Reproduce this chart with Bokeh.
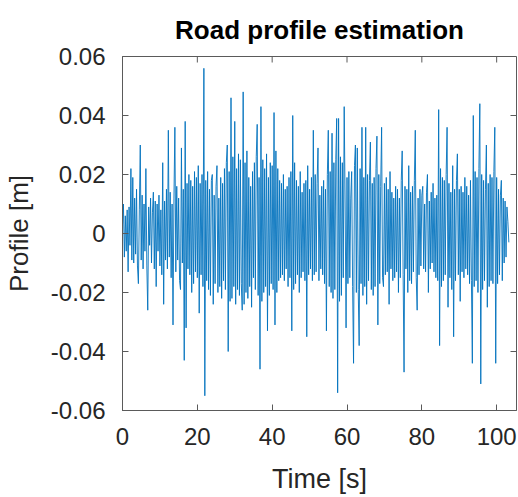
from bokeh.plotting import figure
from bokeh.models import FixedTicker, CustomJSTickFormatter, Range1d
from bokeh.embed import file_html
from bokeh.resources import INLINE
import math

# Road profile estimate [m], sampled every 0.25 s starting at t = 0 s
sample_step_s = 0.25
profile_m = [
    0.003, 0.010, -0.008, 0.006,   -0.006, 0.008, -0.013, 0.009,
    -0.004, 0.022, -0.009, 0.019,  -0.010, 0.012, -0.007, 0.015,
    -0.011, -0.017, 0.008, 0.030,  -0.009, 0.013, -0.012, 0.010,
    -0.006, 0.022, -0.011, -0.026, 0.009, -0.004, 0.012, -0.010,
    0.007, 0.014, -0.012, 0.011,   -0.018, 0.010, -0.006, 0.013,
    -0.011, 0.008, -0.014, 0.024,  -0.024, 0.011, -0.009, 0.015,
    -0.012, 0.035, -0.008, 0.014,  -0.015, 0.010, -0.031, 0.012,
    0.036, -0.013, 0.016, -0.009,  0.012, -0.016, -0.019, 0.029,
    -0.010, 0.015, -0.043, 0.038,  -0.032, 0.017, -0.012, 0.020,
    -0.014, 0.018, -0.020, 0.016,  -0.017, 0.021, -0.013, 0.019,
    -0.015, 0.023, -0.027, 0.017,  -0.014, 0.020, -0.018, 0.056,
    -0.055, 0.018, -0.016, 0.021,  -0.019, 0.015, -0.021, 0.018,
    0.020, -0.024, 0.013, -0.017,  0.016, 0.023, -0.020, 0.012,
    -0.018, 0.019, -0.022, 0.017,  -0.016, 0.022, -0.019, 0.024,
    0.030, -0.040, 0.021, -0.023,  0.046, -0.022, 0.026, -0.018,
    0.038, -0.024, 0.022, -0.019,  0.027, -0.021, 0.025, -0.017,
    -0.026, 0.048, -0.024, 0.024,  -0.020, 0.028, -0.022, 0.019,
    -0.018, 0.016, -0.025, 0.021,  -0.015, 0.024, -0.019, 0.026,
    0.037, -0.021, 0.019, -0.046,  0.043, -0.023, 0.025, -0.020,
    0.022, -0.018, 0.027, -0.033,  0.019, -0.021, 0.024, -0.017,
    0.023, -0.019, 0.041, -0.031,  0.028, -0.020, 0.022, -0.016,
    0.018, -0.015, 0.017, -0.014,  0.020, -0.016, 0.015, -0.012,
    0.016, -0.018, 0.019, -0.015,  0.021, -0.033, 0.040, -0.019,
    0.024, -0.017, 0.018, -0.014,  0.016, -0.020, 0.021, -0.015,
    0.014, -0.013, 0.017, -0.016,  0.018, -0.035, 0.023, -0.014,
    0.015, -0.012, 0.019, -0.016,  0.035, -0.014, 0.020, -0.013,
    0.017, 0.029, -0.016, 0.013,   -0.012, 0.016, -0.014, 0.018,
    -0.017, 0.015, -0.033, 0.020,  0.035, -0.018, 0.021, -0.020,
    0.034, -0.022, 0.024, -0.019,  0.025, 0.039, -0.054, 0.039,
    -0.023, 0.026, -0.021, 0.024,  -0.015, 0.043, 0.010, -0.032,
    0.019, -0.017, 0.021, -0.015,  0.012, 0.021, -0.018, -0.044,
    0.023, 0.030, -0.020, 0.029,   -0.019, -0.038, 0.022, -0.017,
    0.036, -0.021, 0.019, -0.018,  0.036, -0.024, 0.020, -0.016,
    0.018, 0.031, -0.019, 0.017,   -0.021, 0.019, -0.018, 0.022,
    0.033, -0.031, 0.020, -0.017,  0.016, 0.036, -0.015, -0.018,
    0.017, -0.014, 0.019, -0.013,  0.015, -0.024, 0.021, -0.012,
    0.014, -0.016, 0.012, -0.015,  0.016, -0.013, 0.015, -0.020,
    0.012, -0.015, 0.018, 0.028,   -0.014, -0.047, 0.016, -0.012,
    0.015, -0.020, 0.023, -0.016,  0.014, -0.017, 0.016, -0.013,
    0.018, 0.035, -0.015, -0.026,  0.012, -0.014, 0.015, -0.011,
    0.013, 0.016, -0.012, 0.010,   -0.013, 0.014, 0.020, -0.020,
    0.011, -0.012, 0.014, -0.010,  0.017, -0.013, 0.012, -0.015,
    0.013, -0.016, 0.042, -0.038,  0.022, -0.018, 0.019, -0.016,
    0.018, -0.014, 0.020, 0.036,   -0.025, 0.017, -0.015, 0.014,
    -0.019, 0.023, -0.035, 0.015,  -0.016, 0.018, 0.027, -0.014,
    0.015, -0.023, 0.016, -0.013,  0.014, -0.015, 0.019, -0.012,
    0.016, -0.014, 0.013, -0.017,  0.018, -0.016, -0.044, 0.040,
    -0.018, 0.021, -0.016, 0.019,  -0.020, 0.022, 0.044, -0.051,
    0.020, -0.019, 0.018, -0.016,  0.015, 0.030, -0.025, 0.017,
    -0.018, 0.020, -0.016, 0.019,  -0.017, 0.021, 0.036, -0.044,
    0.019, -0.017, 0.015, -0.014,  0.013, 0.018, -0.016, 0.012,
    -0.010, 0.011, -0.008, 0.009,  0.004, -0.003,
]
time_s = [i * sample_step_s for i in range(len(profile_m))]

x_ticks = [0, 20, 40, 60, 80, 100]
y_ticks = [-0.06, -0.04, -0.02, 0, 0.02, 0.04, 0.06]
x_lim = (0, 105.3)
y_lim = (-0.06, 0.06)

FONT = "Liberation Sans"
TEXT = "#262626"
AXC = "#5a5a5a"

p = figure(width=517, height=496, output_backend="svg", toolbar_location=None,
           x_range=Range1d(*x_lim), y_range=Range1d(*y_lim),
           min_border_left=121, min_border_right=1, min_border_top=56,
           min_border_bottom=85, title="Road profile estimation",
           background_fill_color="white", border_fill_color="white")

p.title.text_font = FONT
p.title.text_font_size = "26px"
p.title.text_font_style = "bold"
p.title.text_color = "#000000"
p.title.align = "center"
p.title.standoff = 24

p.xgrid.visible = False
p.ygrid.visible = False
p.outline_line_color = AXC

fmt_y = CustomJSTickFormatter(code="return tick == 0 ? '0' : tick.toFixed(2);")

def style(ax, ticks, standoff):
    ax.ticker = FixedTicker(ticks=ticks)
    ax.major_tick_in = 6
    ax.major_tick_out = 0
    ax.minor_tick_line_color = None
    ax.major_tick_line_color = AXC
    ax.axis_line_color = AXC
    ax.major_label_text_font = FONT
    ax.major_label_text_color = TEXT
    ax.major_label_text_font_size = "24px"
    ax.major_label_standoff = standoff

xa = p.xaxis[0]
style(xa, x_ticks, 17)
xa.axis_label = "Time [s]"
xa.axis_label_text_font = FONT
xa.axis_label_text_font_size = "27px"
xa.axis_label_text_font_style = "normal"
xa.axis_label_text_color = TEXT
xa.axis_label_standoff = 16

ya = p.yaxis[0]
style(ya, y_ticks, 17)
ya.formatter = fmt_y
ya.axis_label = "Profile [m]"
ya.axis_label_text_font = FONT
ya.axis_label_text_font_size = "26px"
ya.axis_label_text_font_style = "normal"
ya.axis_label_text_color = TEXT
ya.axis_label_standoff = 14

# box ticks on the top and right edges (MATLAB "box on")
p.ray(x=x_ticks, y=[y_lim[1]] * len(x_ticks), length=6, length_units="screen",
      angle=-math.pi / 2, line_color=AXC, line_width=1)
p.ray(x=[x_lim[1]] * len(y_ticks), y=y_ticks, length=6, length_units="screen",
      angle=math.pi, line_color=AXC, line_width=1)

p.line(time_s, profile_m, line_color="#0072BD", line_width=0.9)

open("out.html", "w").write(file_html(p, INLINE))
